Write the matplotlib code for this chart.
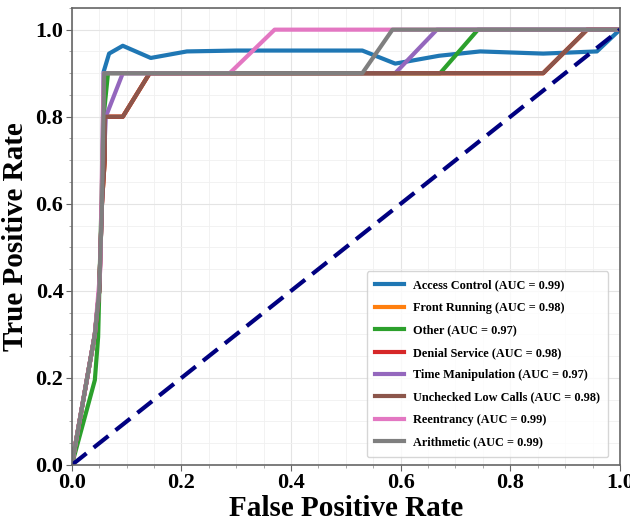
import matplotlib
matplotlib.use("Agg")
import matplotlib.pyplot as plt
from matplotlib.ticker import MultipleLocator

labels = ["Access Control", "Front Running", "Other", "Denial Service",
          "Time Manipulation", "Unchecked Low Calls", "Reentrancy", "Arithmetic"]
aucs = [0.99, 0.98, 0.97, 0.98, 0.97, 0.98, 0.99, 0.99]
colors = ["#1f77b4", "#ff7f0e", "#2ca02c", "#d62728",
          "#9467bd", "#8c564b", "#e377c2", "#7f7f7f"]

access_fpr = [0.0, 0.042, 0.05, 0.055, 0.058, 0.068, 0.093, 0.144, 0.21, 0.30, 0.53, 0.59, 0.67, 0.745, 0.86, 0.958, 1.0]
access_tpr = [0.0, 0.3, 0.4, 0.6, 0.903, 0.945, 0.963, 0.935, 0.95, 0.952, 0.952, 0.922, 0.94, 0.95, 0.945, 0.95, 1.0]

front_fpr = [0.0, 0.042, 0.05, 0.055, 0.06, 0.06, 0.093, 0.142, 0.86, 0.94, 1.0]
front_tpr = [0.0, 0.3, 0.4, 0.6, 0.7, 0.8, 0.8, 0.9, 0.9, 1.0, 1.0]

other_fpr = [0.0, 0.042, 0.048, 0.058, 0.066, 0.672, 0.741, 1.0]
other_tpr = [0.0, 0.195, 0.294, 0.8, 0.9, 0.9, 1.0, 1.0]

denial_fpr = [0.0, 0.042, 0.05, 0.055, 0.06, 0.06, 0.093, 0.142, 0.86, 0.94, 1.0]
denial_tpr = [0.0, 0.3, 0.4, 0.6, 0.7, 0.8, 0.8, 0.9, 0.9, 1.0, 1.0]

time_fpr = [0.0, 0.042, 0.05, 0.055, 0.062, 0.093, 0.59, 0.666, 1.0]
time_tpr = [0.0, 0.3, 0.4, 0.6, 0.8, 0.9, 0.9, 1.0, 1.0]

unchecked_fpr = [0.0, 0.042, 0.05, 0.055, 0.06, 0.06, 0.093, 0.142, 0.86, 0.94, 1.0]
unchecked_tpr = [0.0, 0.3, 0.4, 0.6, 0.7, 0.8, 0.8, 0.9, 0.9, 1.0, 1.0]

reent_fpr = [0.0, 0.042, 0.052, 0.058, 0.288, 0.37, 1.0]
reent_tpr = [0.0, 0.3, 0.45, 0.9, 0.9, 1.0, 1.0]

arith_fpr = [0.0, 0.042, 0.05, 0.055, 0.059, 0.53, 0.585, 1.0]
arith_tpr = [0.0, 0.3, 0.4, 0.6, 0.9, 0.9, 1.0, 1.0]

series = [(access_fpr, access_tpr), (front_fpr, front_tpr), (other_fpr, other_tpr),
          (denial_fpr, denial_tpr), (time_fpr, time_tpr), (unchecked_fpr, unchecked_tpr),
          (reent_fpr, reent_tpr), (arith_fpr, arith_tpr)]

serif = ["Liberation Serif", "DejaVu Serif"]
plt.rcParams['font.family'] = serif

fig = plt.figure(figsize=(6.3, 5.26), dpi=100)
ax = fig.add_axes([0.114, 0.116, 0.870, 0.869])

for (fx, ty), lab, auc, c in zip(series, labels, aucs, colors):
    ax.plot(fx, ty, color=c, lw=3, label=f"{lab} (AUC = {auc:.2f})")

ax.plot([0, 1], [0, 1], color="navy", lw=3, linestyle=(0, (4.5, 2.2)))

ax.set_xlim(0, 1.0)
ax.set_ylim(0, 1.05)
ax.xaxis.set_major_locator(MultipleLocator(0.2))
ax.yaxis.set_major_locator(MultipleLocator(0.2))
ax.xaxis.set_minor_locator(MultipleLocator(0.05))
ax.yaxis.set_minor_locator(MultipleLocator(0.05))
ax.grid(True, which="major", color="#e4e4e4", lw=0.8)
ax.grid(True, which="minor", color="#f0f0f0", lw=0.6)
ax.set_axisbelow(True)
for s in ax.spines.values():
    s.set_color("#666666")
    s.set_linewidth(1.2)
ax.tick_params(axis="both", which="major", labelsize=16, length=4, color="#666666", pad=2)
ax.tick_params(axis="both", which="minor", length=2.5, color="#999999")
for t in ax.get_xticklabels() + ax.get_yticklabels():
    t.set_fontweight("bold")

ax.set_xlabel("False Positive Rate", fontsize=21, fontweight="bold", labelpad=1)
ax.set_ylabel("True Positive Rate", fontsize=21, fontweight="bold", labelpad=5)

leg = ax.legend(loc="lower right", prop={"family": serif, "weight": "bold", "size": 8.8},
                frameon=True, fancybox=True, borderpad=0.7, labelspacing=0.85,
                handlelength=2.3, handletextpad=0.75, bbox_to_anchor=(0.99, 0.004))
leg.get_frame().set_edgecolor("#cccccc")
for h in leg.get_lines():
    h.set_linewidth(3)

fig.savefig("out.png", dpi=100)
